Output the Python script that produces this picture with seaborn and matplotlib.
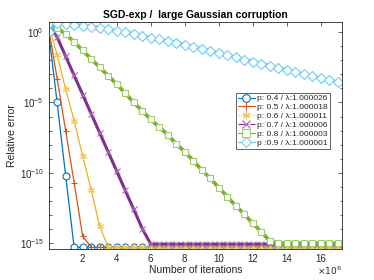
import numpy as np
import pandas as pd
import matplotlib
matplotlib.use("Agg")
import matplotlib.pyplot as plt
from matplotlib.lines import Line2D
from matplotlib.ticker import FixedLocator, NullFormatter
import seaborn as sns

# iterations (x 1e6), one value every half million
iters = [0, 0.5, 1, 1.5, 2, 2.5, 3, 3.5, 4, 4.5, 5, 5.5, 6, 6.5, 7, 7.5, 8, 8.5,
         9, 9.5, 10, 10.5, 11, 11.5, 12, 12.5, 13, 13.5, 14, 14.5, 15, 15.5, 16, 16.5, 17]

# relative error, stored as log10 values
err_p04 = [0.0, -5.0, -10.2] + [-15.3] * 32
err_p05 = [0.3, -3.3, -7.0, -10.7, -14.5] + [-15.3] * 30
err_p06 = [0.5, -1.63, -4.07, -6.3, -8.8, -11.2, -13.8] + [-15.3] * 28
err_p07 = [0.5, -0.36, -1.72, -3.08, -4.44, -5.8, -7.16, -8.52, -9.88, -11.24,
           -12.6, -13.96] + [-15.07] * 23
err_p08 = [0.5, 0.3, -0.15, -0.7, -1.3, -1.9, -2.5, -3.1, -3.7, -4.35, -5.0, -5.6,
           -6.2, -6.75, -7.3, -7.95, -8.5, -9.15, -9.8, -10.4, -11.05, -11.7,
           -12.35, -12.95, -13.6, -14.2, -14.85] + [-15.0] * 8
err_p09 = [0.0, 0.65, 0.58, 0.52, 0.46, 0.38, 0.3, 0.2, 0.08, -0.02, -0.12, -0.27,
           -0.4, -0.52, -0.64, -0.76, -0.9, -1.05, -1.2, -1.35, -1.5, -1.65, -1.8,
           -1.95, -2.1, -2.25, -2.4, -2.55, -2.7, -2.85, -3.0, -3.13, -3.28, -3.42,
           -3.56]

labels = ["p: 0.4 / \u03bb:1.000026", "p: 0.5 / \u03bb:1.000018",
          "p: 0.6 / \u03bb:1.000011", "p: 0.7 / \u03bb:1.000006",
          "p: 0.8 / \u03bb:1.000003", "p :0.9 / \u03bb:1.000001"]

sns.set_style("ticks")
plt.rcParams["font.family"] = ["Liberation Sans", "DejaVu Sans"]
plt.rcParams["axes.linewidth"] = 0.6

fig = plt.figure(figsize=(3.74, 2.8), dpi=100)
ax = fig.add_axes([0.13, 0.11, 0.785, 0.811])

x = np.array(iters) * 1e6
asterisk = (6, 2, 0)
styles = [
    # values, line colour, line width, marker, marker colour, legend linestyle
    (err_p04, "#0072BD", 0.9, "o", "#0072BD", "-"),
    (err_p05, "#D95319", 0.9, "+", "#D95319", "-"),
    (err_p06, "#EDB120", 0.9, asterisk, "#F2C65A", ":"),
    (err_p07, "#7E2F8E", 2.2, "x", "#A56BB2", "-."),
    (err_p08, "#77AC30", 2.6, "s", "#9FCC6B", "-"),
    (err_p09, "#4DBEEE", 2.6, "D", "#6FCDF2", "-"),
]

handles = []
for (vals, col, lw, mk, mcol, ls), lab in zip(styles, labels):
    df = pd.DataFrame({"iter": x, "err": 10.0 ** np.array(vals)})
    face = "white" if mk in ("o", "s", "D") else mcol
    sns.lineplot(data=df, x="iter", y="err", ax=ax, color=col, linewidth=lw,
                 marker=mk, markersize=5 if mk != "D" else 5.5,
                 markeredgecolor=mcol, markerfacecolor=face,
                 markeredgewidth=0.8, estimator=None, sort=False)
    handles.append(Line2D([], [], color=col, lw=0.8, ls=ls, marker=mk,
                          markersize=5.5, markeredgecolor=mcol,
                          markerfacecolor=face, markeredgewidth=0.8))

ax.set_yscale("log")
ax.set_xlim(0, 17.25e6)
ax.set_ylim(10 ** -15.43, 10 ** 0.71)

ax.set_xticks([v * 1e6 for v in [2, 4, 6, 8, 10, 12, 14, 16]])
ax.set_xticklabels(["2", "4", "6", "8", "10", "12", "14", "16"])
ax.yaxis.set_major_locator(FixedLocator([1e0, 1e-5, 1e-10, 1e-15]))
ax.yaxis.set_minor_locator(FixedLocator([10.0 ** -k for k in range(16)]))
ax.yaxis.set_minor_formatter(NullFormatter())

ax.tick_params(which="both", direction="in", top=True, right=True,
               colors="#262626", labelsize=7, width=0.5)
ax.tick_params(which="major", length=3)
ax.tick_params(which="minor", length=1.8)
for s in ax.spines.values():
    s.set_color("#262626")

ax.set_xlabel("Number of iterations", fontsize=7.5, color="#262626", labelpad=1)
ax.set_ylabel("Relative error", fontsize=7.5, color="#262626", labelpad=2)
ax.set_title("SGD-exp /  large Gaussian corruption", fontsize=7.5,
             fontweight="bold", color="black", pad=3)
ax.text(1.0, -0.095, r"$\times10^6$", transform=ax.transAxes, ha="right",
        va="center", fontsize=6.5, color="#262626")

leg = ax.legend(handles, labels, loc="upper left", bbox_to_anchor=(0.638, 0.69),
                fontsize=6, frameon=True, fancybox=False, framealpha=1,
                edgecolor="#262626", borderpad=0.25, labelspacing=0.12,
                handlelength=2.0, handletextpad=0.3, borderaxespad=0)
leg.get_frame().set_linewidth(0.5)

fig.savefig("out.png", dpi=100)
